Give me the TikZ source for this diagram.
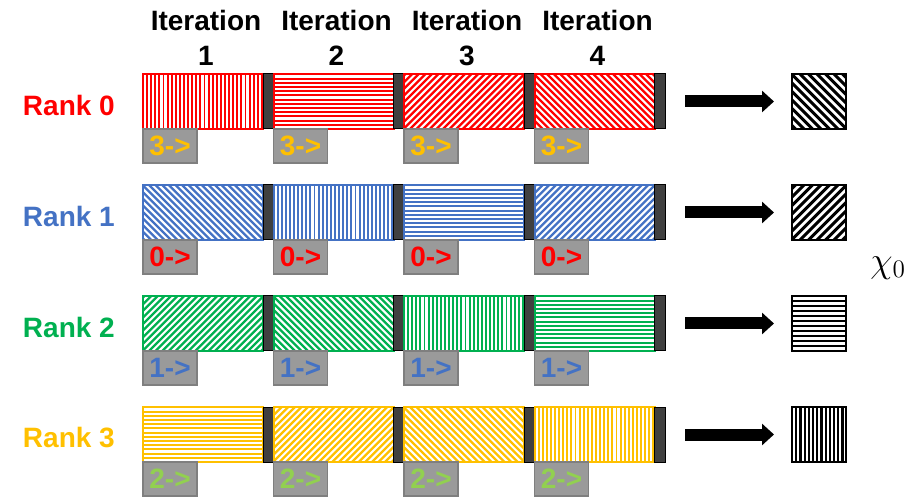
\documentclass[tikz,border=0pt]{standalone}
\usepackage{graphicx}
\usepackage{fontspec}
\setmainfont{Liberation Sans}
\usetikzlibrary{arrows.meta}

\definecolor{rank0}{HTML}{FF0000}
\definecolor{rank1}{HTML}{4472C4}
\definecolor{rank2}{HTML}{00B050}
\definecolor{rank3}{HTML}{FFC000}
\definecolor{lightgreen}{HTML}{92D050}
\definecolor{sepgray}{HTML}{404040}
\definecolor{tagfill}{HTML}{9A9A9A}
\definecolor{tagdraw}{HTML}{7F7F7F}

% the four hatchings: {colour}{gap}{line width}
\tikzset{
  hatch0/.style n args={3}{path picture={
    \foreach \t in {0,#2,...,130}
      \draw[#1, line width=#3pt] ([xshift=\t pt]path picture bounding box.south west) -- ++(0,-70);}},
  hatch1/.style n args={3}{path picture={
    \foreach \t in {0,#2,...,60}
      \draw[#1, line width=#3pt] ([yshift=\t pt]path picture bounding box.south west) -- ++(130,0);}},
  hatch2/.style n args={3}{path picture={
    \foreach \t in {0,#2,...,200}
      \draw[#1, line width=#3pt] ([xshift=\t pt-60pt]path picture bounding box.south west) -- ++(70,-70);}},
  hatch3/.style n args={3}{path picture={
    \foreach \t in {0,#2,...,200}
      \draw[#1, line width=#3pt] ([xshift=\t pt-60pt]path picture bounding box.north west) -- ++(70,70);}},
}

\begin{document}
\begin{tikzpicture}[x=1pt, y=-1pt,
    every node/.style={font=\bfseries\fontsize{28}{35}\selectfont, inner sep=0pt, outer sep=0pt},
    block/.style={draw, line width=2pt, minimum width=120pt, minimum height=55pt},
    sepbar/.style={draw=black, fill=sepgray, line width=1pt, minimum width=10.5pt, minimum height=55pt},
    tag/.style={draw=tagdraw, fill=tagfill, line width=1.5pt, minimum width=54pt, minimum height=34pt},
    result/.style={draw=black, line width=2pt, minimum width=54pt, minimum height=55pt},
    bigarrow/.style={line width=12pt, -{Triangle[width=21pt,length=12pt]}, shorten <=20pt, shorten >=18pt}]
  \useasboundingbox (0,0) rectangle (922,497);

  % iteration headers
  \foreach \i in {1,...,4} {
    \pgfmathsetmacro\hx{206+130.5*(\i-1)}
    \node[anchor=north, align=center] (it\i) at (\hx,10) {Iteration\\\i};
  }

  % one row of blocks per rank
  \foreach \r/\col/\from/\fromcol in {0/rank0/3/rank3, 1/rank1/0/rank0, 2/rank2/1/rank1, 3/rank3/2/lightgreen} {
    \pgfmathsetmacro\rowy{74+111*\r}
    \node[anchor=west, text=\col] (rank\r) at (23,\rowy+31) {Rank \r};
    \foreach \i in {0,...,3} {
      \pgfmathtruncatemacro\pat{mod(\i-\r+4,4)}
      \pgfmathsetmacro\gap{{4.1,4.2,6.6,6.6}[\pat]}
      \pgfmathsetmacro\lw{{1.9,1.9,2.3,2.3}[\pat]}
      \pgfmathsetmacro\bx{143+130.5*\i}
      \node[block, draw=\col, hatch\pat={\col}{\gap}{\lw}, anchor=north west] (b\r\i) at (\bx,\rowy) {};
      \node[sepbar, anchor=west] (s\r\i) at (b\r\i.east) {};
      \node[tag, text=\fromcol, anchor=north west] (t\r\i) at (b\r\i.south west) {\from->};
    }
  }

  % what each rank ends up with
  \foreach \r/\pat/\gap/\lw in {0/3/8.5/3, 1/2/8.5/3, 2/1/5/2.5, 3/0/4.2/2.2} {
    \pgfmathsetmacro\rowy{74+111*\r}
    \node[result, hatch\pat={black}{\gap}{\lw}] (q\r) at (819,\rowy+27.5) {};
    \draw[bigarrow] (s\r3.east) -- (q\r.west);
  }

  \node[font=\fontsize{20}{24}\selectfont] (chi) at (888,268) {\scalebox{1.75}{$\chi_0$}};
\end{tikzpicture}
\end{document}
